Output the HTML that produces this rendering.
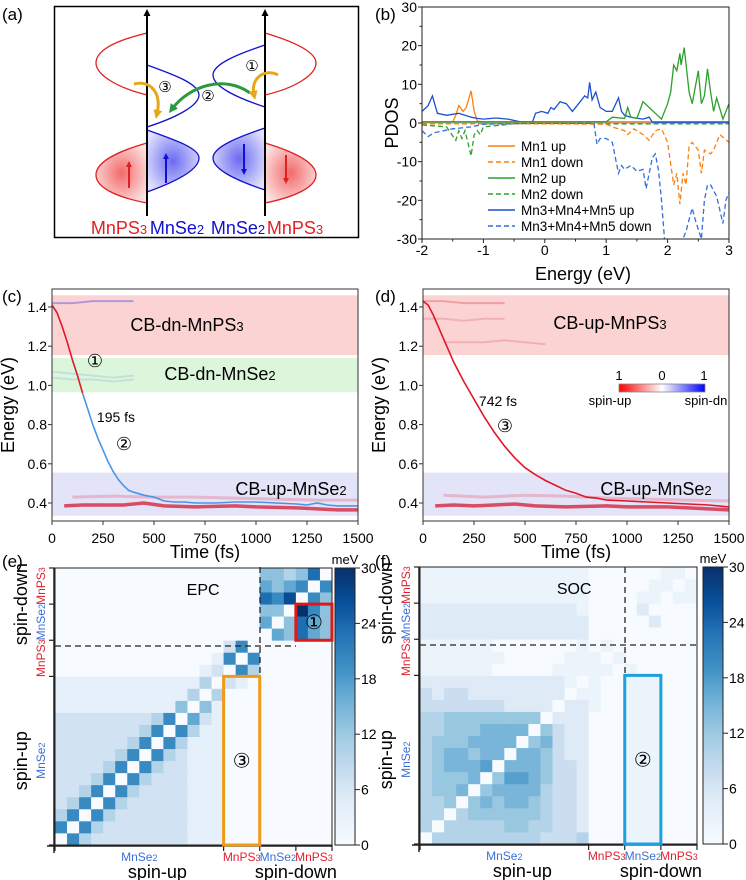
<!DOCTYPE html>
<html><head><meta charset="utf-8"><style>
html,body{margin:0;padding:0;background:#fff}
svg{display:block;font-family:"Liberation Sans","DejaVu Sans",sans-serif}
</style></head><body>
<svg id="fig" width="746" height="880" viewBox="0 0 746 880">
<defs>
<radialGradient id="gRed" cx="0.5" cy="0.5" r="0.6"><stop offset="0" stop-color="#f26a6a"/><stop offset="1" stop-color="#fde3e3"/></radialGradient>
<radialGradient id="gBlue" cx="0.5" cy="0.5" r="0.6"><stop offset="0" stop-color="#6a6af2"/><stop offset="1" stop-color="#e3e3fd"/></radialGradient>
<linearGradient id="spinBar" x1="0" x2="1"><stop offset="0" stop-color="#ff0000"/><stop offset="0.5" stop-color="#ffffff"/><stop offset="1" stop-color="#0000ff"/></linearGradient>
<linearGradient id="bluesBar" x1="0" y1="1" x2="0" y2="0">
<stop offset="0" stop-color="#f7fbff"/><stop offset="0.17" stop-color="#deebf7"/><stop offset="0.27" stop-color="#c6dbef"/><stop offset="0.4" stop-color="#9ecae1"/><stop offset="0.53" stop-color="#6baed6"/><stop offset="0.63" stop-color="#4292c6"/><stop offset="0.77" stop-color="#2171b5"/><stop offset="0.87" stop-color="#08519c"/><stop offset="1" stop-color="#08306b"/></linearGradient>
<marker id="ahY" markerUnits="userSpaceOnUse" markerWidth="9" markerHeight="9" refX="4" refY="4.5" orient="auto"><path d="M0,0 L9,4.5 L0,9 z" fill="#e6a81a"/></marker>
<marker id="ahG" markerUnits="userSpaceOnUse" markerWidth="9" markerHeight="9" refX="4" refY="4.5" orient="auto"><path d="M0,0 L9,4.5 L0,9 z" fill="#2a9a3a"/></marker>
<marker id="ahK" markerUnits="userSpaceOnUse" markerWidth="7" markerHeight="7" refX="5" refY="3.5" orient="auto"><path d="M0,0 L7,3.5 L0,7 z" fill="#000"/></marker>
<marker id="ahR" markerUnits="userSpaceOnUse" markerWidth="6" markerHeight="6" refX="4" refY="3" orient="auto"><path d="M0,0 L6,3 L0,6 z" fill="#e02020"/></marker>
<marker id="ahB" markerUnits="userSpaceOnUse" markerWidth="6" markerHeight="6" refX="4" refY="3" orient="auto"><path d="M0,0 L6,3 L0,6 z" fill="#1010d0"/></marker>
</defs>

<text x="2" y="20" font-size="17">(a)</text>
<text x="375" y="20" font-size="17">(b)</text>
<text x="2" y="302" font-size="17">(c)</text>
<text x="375" y="302" font-size="17">(d)</text>
<text x="2" y="567" font-size="17">(e)</text>
<text x="375" y="567" font-size="17">(f)</text>

<g>
<rect x="54.5" y="6.5" width="304" height="231" fill="#fff" stroke="#000" stroke-width="1.5"/>
<path d="M147,33 C110,42 96,52 96,63 C96,75 118,88 147,95" fill="none" stroke="#e02020" stroke-width="1.3"/>
<path d="M147,65 C175,75 199,84 199,95 C199,106 175,118 147,127" fill="none" stroke="#1010d0" stroke-width="1.3"/>
<path d="M147,130 C175,140 199,148 199,158 C199,170 175,182 147,192 Z" fill="url(#gBlue)" stroke="#1010d0" stroke-width="1.3"/>
<path d="M147,143 C115,152 96,163 96,175 C96,187 115,197 147,203 Z" fill="url(#gRed)" stroke="#e02020" stroke-width="1.3"/>
<path d="M265,33 C295,42 316,52 316,63 C316,75 295,88 265,95" fill="none" stroke="#e02020" stroke-width="1.3"/>
<path d="M265,45 C238,54 213,64 213,75 C213,87 238,98 265,107" fill="none" stroke="#1010d0" stroke-width="1.3"/>
<path d="M265,128 C238,137 213,147 213,158 C213,170 238,181 265,190 Z" fill="url(#gBlue)" stroke="#1010d0" stroke-width="1.3"/>
<path d="M265,143 C295,152 316,163 316,175 C316,187 295,197 265,203 Z" fill="url(#gRed)" stroke="#e02020" stroke-width="1.3"/>
<line x1="147" y1="216" x2="147" y2="11" stroke="#000" stroke-width="2" marker-end="url(#ahK)"/>
<line x1="265" y1="216" x2="265" y2="11" stroke="#000" stroke-width="2" marker-end="url(#ahK)"/>
<line x1="129" y1="188" x2="129" y2="163" stroke="#e02020" stroke-width="2" marker-end="url(#ahR)"/>
<line x1="166" y1="183" x2="166" y2="155" stroke="#1010d0" stroke-width="2" marker-end="url(#ahB)"/>
<line x1="244" y1="144" x2="244" y2="173" stroke="#1010d0" stroke-width="2" marker-end="url(#ahB)"/>
<line x1="286" y1="155" x2="286" y2="182" stroke="#e02020" stroke-width="2" marker-end="url(#ahR)"/>
<path d="M134,84 C150,80 162,92 157,114" fill="none" stroke="#e6a81a" stroke-width="3" marker-end="url(#ahY)"/>
<path d="M250,93 C225,75 190,85 172,109" fill="none" stroke="#2a9a3a" stroke-width="3" marker-end="url(#ahG)"/>
<path d="M278,75 C265,68 250,78 254,95" fill="none" stroke="#e6a81a" stroke-width="3" marker-end="url(#ahY)"/>
<text x="165" y="92" font-size="15" text-anchor="middle" font-family="DejaVu Sans">③</text>
<text x="208" y="101" font-size="15" text-anchor="middle" font-family="DejaVu Sans">②</text>
<text x="252" y="71" font-size="15" text-anchor="middle" font-family="DejaVu Sans">①</text>
<text x="119" y="234" font-size="18" fill="#e02020" text-anchor="middle">MnPS<tspan font-size="13">3</tspan></text>
<text x="177" y="234" font-size="18" fill="#1010d0" text-anchor="middle">MnSe<tspan font-size="13">2</tspan></text>
<text x="238" y="234" font-size="18" fill="#1010d0" text-anchor="middle">MnSe<tspan font-size="13">2</tspan></text>
<text x="295" y="234" font-size="18" fill="#e02020" text-anchor="middle">MnPS<tspan font-size="13">3</tspan></text>
</g>

<g id="pdos"></g>
<g id="pc"></g>
<g id="pd"></g>
<g id="pe"></g>
<g id="pf"></g>
</svg>
<script>
const mn1UpE=[-2,-1.5,-1.45,-1.4,-1.33,-1.28,-1.2,-1.15,-1.1,-1.0,0,1.0,2.0,3];
const mn1UpV=[0.2,0.3,2,4.5,3,4,8.3,3,0.5,0.3,0.2,0.3,0.3,0.3];
const mn1DnE=[-2,0,1.0,1.1,1.3,1.35,1.45,1.6,1.7,1.8,1.9,2.0,2.1,2.15,2.2,2.25,2.3,2.35,2.4,2.5,2.55,2.6,2.7,2.75,2.85,3];
const mn1DnV=[-0.2,-0.2,-0.3,-1,-2,-3,-1.5,-3,-4.5,-2,-1.5,-5,-16,-13,-21,-13,-16,-6,-5,-7,-13,-7,-8,-7,-3,-5];
const mn2UpE=[-2,0,1.0,1.1,1.3,1.35,1.4,1.5,1.6,1.7,1.8,1.9,2.0,2.05,2.1,2.15,2.2,2.22,2.27,2.35,2.4,2.5,2.55,2.6,2.65,2.7,2.75,2.8,2.9,3];
const mn2UpV=[0.3,0.3,0.3,1.5,1.2,4,1.5,1.2,5.5,4,2.5,1,5,8,15,13.5,18,15,19.5,8,5,13.5,5,7,14,8,3,6.5,1,5];
const mn2DnE=[-2,-1.6,-1.45,-1.4,-1.35,-1.3,-1.2,-1.15,-1.1,-1.05,-1,-0.5,3];
const mn2DnV=[-0.5,-1,-4.5,-2,-4,-2,-8.5,-3,-2,-3,-1,-0.2,-0.2];
const mn345UpE=[-2,-1.9,-1.83,-1.75,-1.6,-1.4,-1.2,-1.1,-1,-0.8,-0.6,-0.4,-0.2,-0.15,-0.05,0.05,0.1,0.15,0.25,0.35,0.45,0.55,0.65,0.7,0.73,0.77,0.83,0.9,1.0,1.1,1.2,1.25,1.3,1.4,1.6,1.7,1.75,3];
const mn345UpV=[3,4.5,7,2.5,2,2.5,1.5,1.2,1,1.3,1,0.3,0.3,2.5,3,2.5,4,3.5,5.5,5,3,5,7,6.5,10.5,6,8,4,3,3,6.5,3,2,1.5,1,1.5,0.2,0.2];
const mn345DnE=[-2,-1.9,-1.8,-1.5,-1.2,-1,-0.2,0.8,0.85,0.9,1.0,1.1,1.2,1.25,1.3,1.4,1.5,1.6,1.65,1.75,1.8,1.85,1.9,1.95,2.0,2.1,2.2,2.3,2.4,2.45,2.55,2.6,2.65,2.7,2.8,2.9,2.95,3];
const mn345DnV=[-2,-3.5,-2.5,-1.5,-1,-0.3,-0.1,-0.1,-5.5,-4,-4,-5,-13,-11,-12,-11,-12.5,-12,-17,-9,-8,-12,-20,-30,-32,-34,-32,-28,-22,-25,-30,-20,-16,-16,-19,-26,-20,-18];
const pdosXTicks=[-2,-1,0,1,2,3];
const pdosYTicks=[30,20,10,0,-10,-20,-30];
const legendNames=["Mn1 up","Mn1 down","Mn2 up","Mn2 down","Mn3+Mn4+Mn5 up","Mn3+Mn4+Mn5 down"];

const cT=[0,25,50,75,100,125,150,175,200,225,250,275,300,325,350,375,400,450,500,550,600,650,700,800,900,1000,1100,1200,1250,1300,1350,1400,1500];
const cE=[1.41,1.37,1.3,1.22,1.13,1.05,0.96,0.88,0.80,0.73,0.67,0.61,0.56,0.52,0.49,0.465,0.455,0.44,0.43,0.41,0.405,0.405,0.40,0.40,0.405,0.405,0.40,0.395,0.39,0.40,0.39,0.385,0.385];
const cSplitTime=150;
const lowT=[60,150,250,350,450,550,700,900,1000,1200,1400,1500];
const lowEc=[0.385,0.39,0.39,0.39,0.4,0.385,0.38,0.385,0.38,0.375,0.365,0.365];
const lowEd=[0.385,0.39,0.385,0.39,0.395,0.385,0.38,0.385,0.38,0.38,0.37,0.365];
const faintT=[100,300,500,700,900,1100,1300,1500];
const faintEc=[0.43,0.435,0.43,0.43,0.425,0.42,0.415,0.415];
const faintEd=[0.44,0.43,0.44,0.435,0.425,0.42,0.415,0.41];
const faintTopT=[0,100,200,300,400];
const faintTopC=[1.42,1.42,1.43,1.43,1.43];
const faintMidC=[1.07,1.06,1.05,1.04,1.05];
const faintLowC=[1.04,1.03,1.03,1.02,1.03];
const faintTopD=[1.43,1.43,1.42,1.42,1.42];
const faintMidD=[1.34,1.34,1.33,1.34,1.34];
const faintT2=[100,200,300,400,500,600];
const faintLowD=[1.22,1.22,1.22,1.23,1.22,1.21];
const dT=[0,25,50,100,150,200,250,300,350,400,450,500,550,600,650,700,750,800,850,900,1000,1100,1200,1300,1400,1500];
const dE=[1.43,1.41,1.36,1.24,1.12,1.02,0.93,0.84,0.76,0.69,0.63,0.58,0.545,0.515,0.49,0.465,0.45,0.43,0.425,0.415,0.41,0.405,0.40,0.395,0.39,0.38];
const timeTicks=[0,250,500,750,1000,1250,1500];
const energyTicks=[0.4,0.6,0.8,1.0,1.2,1.4];

const epcRows=[
"06322222222111000000000","60632222222111000000000","36063222222111000000000","23606322222111000000000",
"22360632222111000000000","22236063222111000000000","22223606322111000000000","22222360632111000000000",
"22222236063111000000000","22222223606311000000000","22222222360521000000000","11111111114041000000000",
"11111111111303000000000","11111111111130210000000","00000000000012063000000","00000000000001606000000",
"00000000000000260000000","00000000000000000054754","00000000000000000504754","00000000000000000440964",
"00000000000000000768064","00000000000000000545606","00000000000000000443470"];
const socRows=[
"04444444443334000111000","40444445544332000111000","44045555554332000111000","44505656654332000111000",
"45560566664332000111000","45556057765332000111000","45666706665332000111000","45665660665322000111000",
"45556666056322000111000","44555666605322000111000","44555555550222000111000","33333332222022100111000",
"32332222222201100111000","22222222222210100111000","11111100000111110100000","11111110000011101000000",
"11111100000001010000000","22222222222222000000000","22222222222222000002000","22222222222221000020000",
"11111111111111000011011","11111111111111000001101","11111111111111000000110"];
const cbarTicks=[0,6,12,18,24,30];
const epcLevelMeV=3.33;
const socLevelMeV=2.5;

const NS="http://www.w3.org/2000/svg";
function el(tag,attrs,parent,txt){const e=document.createElementNS(NS,tag);for(const k in attrs)e.setAttribute(k,attrs[k]);if(txt!==undefined)e.textContent=txt;parent.appendChild(e);return e;}
function pathD(xs,ys,fx,fy){return xs.map((x,i)=>(i?"L":"M")+fx(x).toFixed(1)+","+fy(ys[i]).toFixed(1)).join(" ");}

(function(){
const g=document.getElementById('pdos');
const X0=422,X1=729,Y0=7,Y1=239;
const xb=e=>X0+(e+2)/5*(X1-X0);
const yb=v=>Y0+(30-v)/60*(Y1-Y0);
const clip=el('clipPath',{id:'pdosClip'},g);el('rect',{x:X0,y:Y0,width:X1-X0,height:Y1-Y0},clip);
const lines=el('g',{'clip-path':'url(#pdosClip)'},g);

const zero=el('line',{x1:X0,x2:X1,y1:yb(0),y2:yb(0),stroke:'#888','stroke-width':0.8},lines);

const series=[[mn2DnE,mn2DnV,'#2ca02c',true],[mn1DnE,mn1DnV,'#ff7f0e',true],[mn345DnE,mn345DnV,'#2f6fe0',true],[mn1UpE,mn1UpV,'#ff7f0e',false],[mn345UpE,mn345UpV,'#1f4fd0',false],[mn2UpE,mn2UpV,'#2ca02c',false]];
const snames=['mn2-down-line','mn1-down-line','mn345-down-line','mn1-up-line','mn345-up-line','mn2-up-line'];
series.forEach((s,i)=>{const p=el('path',{d:pathD(s[0],s[1],xb,yb),fill:'none',stroke:s[2],'stroke-width':1.3,'stroke-dasharray':s[3]?'5,3':'none'},lines);
});
const fr=el('rect',{x:X0,y:Y0,width:X1-X0,height:Y1-Y0,fill:'none',stroke:'#222','stroke-width':1},g);

pdosXTicks.forEach(t=>{el('line',{x1:xb(t),x2:xb(t),y1:Y1,y2:Y1+4,stroke:'#222'},g);
 const tx=el('text',{x:xb(t),y:Y1+16,'font-size':14,'text-anchor':'middle'},g,String(t));
 
 if(t<3)el('line',{x1:xb(t+0.5),x2:xb(t+0.5),y1:Y1,y2:Y1+2.5,stroke:'#222'},g);});
pdosYTicks.forEach(t=>{el('line',{x1:X0-4,x2:X0,y1:yb(t),y2:yb(t),stroke:'#222'},g);
 const tx=el('text',{x:X0-5,y:yb(t)+5,'font-size':14,'text-anchor':'end'},g,String(t));
 
 if(t>-30)el('line',{x1:X0-2.5,x2:X0,y1:yb(t-5),y2:yb(t-5),stroke:'#222'},g);});
const xt=el('text',{x:583,y:280,'font-size':18,'text-anchor':'middle'},g,'Energy (eV)');

const yt=el('text',{x:0,y:0,'font-size':18,'text-anchor':'middle',transform:'translate(398,123) rotate(-90)'},g,'PDOS');

const lcol=['#ff7f0e','#ff7f0e','#2ca02c','#2ca02c','#1f4fd0','#2f6fe0'];
legendNames.forEach((n,i)=>{const y=146+i*16;
 const lg=el('g',{},g);
 el('line',{x1:488,x2:515,y1:y,y2:y,stroke:lcol[i],'stroke-width':1.4,'stroke-dasharray':i%2?'5,3':'none'},lg);
 el('text',{x:521,y:y+5,'font-size':13.5},lg,n);});
})();

function dyn(gid,X0,curveSpec,bands,texts,extra){
const g=document.getElementById(gid);
const X1=X0+306,Y0=289,Y1=521;
const xt=t=>X0+t/1500*(X1-X0);
const ye=E=>503-(E-0.4)*196;
const cid=gid+'Clip';
const clip=el('clipPath',{id:cid},g);el('rect',{x:X0,y:Y0,width:X1-X0,height:Y1-Y0},clip);
const inner=el('g',{'clip-path':'url(#'+cid+')'},g);
bands.forEach(b=>{const r=el('rect',{x:X0,width:X1-X0,y:ye(b[1]),height:ye(b[0])-ye(b[1]),fill:b[2]},inner);
 });
extra(inner,xt,ye);
curveSpec(inner,xt,ye);
const fr=el('rect',{x:X0,y:Y0,width:X1-X0,height:Y1-Y0,fill:'none',stroke:'#333','stroke-width':1},g);

timeTicks.forEach(t=>{el('line',{x1:xt(t),x2:xt(t),y1:Y1,y2:Y1+4,stroke:'#333'},g);
 const tx=el('text',{x:xt(t),y:Y1+22,'font-size':14,'text-anchor':'middle'},g,String(t));
 });
energyTicks.forEach(E=>{el('line',{x1:X0-4,x2:X0,y1:ye(E),y2:ye(E),stroke:'#333'},g);
 const tx=el('text',{x:X0-5,y:ye(E)+5,'font-size':14,'text-anchor':'end'},g,E.toFixed(1));
 });
const tt=el('text',{x:(X0+X1)/2,y:558,'font-size':18,'text-anchor':'middle'},g,'Time (fs)');

const et=el('text',{x:0,y:0,'font-size':18,'text-anchor':'middle',transform:'translate('+(X0-38)+',405) rotate(-90)'},g,'Energy (eV)');

texts.forEach(t=>{const tx=el('text',{x:t[0],y:t[1],'font-size':t[3],'text-anchor':'middle','font-family':t[4]||'Liberation Sans'},g);tx.innerHTML=t[2];
 });
return g;}

function faint(inner,xt,ye,ts,es,col,w,op,name){const p=el('path',{d:pathD(ts,es,xt,ye),fill:'none',stroke:col,'stroke-width':w,opacity:op},inner);
}

dyn('pc',52,function(inner,xt,ye){
 const i=cT.indexOf(cSplitTime);
 const red=el('path',{d:pathD(cT.slice(0,i+1),cE.slice(0,i+1),xt,ye),fill:'none',stroke:'#e01828','stroke-width':1.6},inner);
 
 const bl=el('path',{d:pathD(cT.slice(i),cE.slice(i),xt,ye),fill:'none',stroke:'#4a94e6','stroke-width':1.6},inner);
 
},[[1.155,1.46,'#fcd3d3','cb-dn-mnps3-band'],[0.965,1.14,'#dcf6dc','cb-dn-mnse2-band'],[0.335,0.555,'#e4e4f8','cb-up-mnse2-band']],
[[187,331,'CB-dn-MnPS<tspan font-size="13">3</tspan>',18,null,'cb-dn-mnps3-label'],[95,367,'①',18,'DejaVu Sans','step-1-marker'],[220,380,'CB-dn-MnSe<tspan font-size="13">2</tspan>',18,null,'cb-dn-mnse2-label'],[116,422,'195 fs',14,null,'lifetime-195fs'],[124,450,'②',18,'DejaVu Sans','step-2-marker'],[291,495,'CB-up-MnSe<tspan font-size="13">2</tspan>',18,null,'cb-up-mnse2-label']],
function(inner,xt,ye){
 faint(inner,xt,ye,faintT,faintEc,'#e58aa0',3,0.5,'faint-level-line');
 faint(inner,xt,ye,lowT,lowEc,'#d8304a',3.5,0.85,'lowest-level-line');
 faint(inner,xt,ye,faintTopT,faintTopC,'#5050e0',2,0.45,'faint-top-line');
 faint(inner,xt,ye,faintTopT,faintMidC,'#9ab8d8',2,0.35,'faint-mid-line');
 faint(inner,xt,ye,faintTopT,faintLowC,'#9ab8d8',2,0.35,'faint-low-line');
});

dyn('pd',423,function(inner,xt,ye){
 const p=el('path',{d:pathD(dT,dE,xt,ye),fill:'none',stroke:'#e01828','stroke-width':1.6},inner);
 
},[[1.155,1.46,'#fcd3d3','cb-up-mnps3-band'],[0.335,0.555,'#e4e4f8','cb-up-mnse2-band']],
[[610,329,'CB-up-MnPS<tspan font-size="13">3</tspan>',18,null,'cb-up-mnps3-label'],[498,406,'742 fs',14,null,'lifetime-742fs'],[505,432,'③',18,'DejaVu Sans','step-3-marker'],[656,495,'CB-up-MnSe<tspan font-size="13">2</tspan>',18,null,'cb-up-mnse2-label'],
 [619,380,'1',13,null,'spin-scale-left'],[662,380,'0',13,null,'spin-scale-mid'],[704,380,'1',13,null,'spin-scale-right'],[610,405,'spin-up',13,null,'spin-up-label'],[706,405,'spin-dn',13,null,'spin-dn-label']],
function(inner,xt,ye){
 faint(inner,xt,ye,faintT,faintEd,'#e58aa0',3,0.5,'faint-level-line');
 faint(inner,xt,ye,lowT,lowEd,'#d8304a',3.5,0.85,'lowest-level-line');
 faint(inner,xt,ye,faintTopT,faintTopD,'#e05060',2,0.4,'faint-top-line');
 faint(inner,xt,ye,faintTopT,faintMidD,'#e07080',2,0.35,'faint-mid-line');
 faint(inner,xt,ye,faintT2,faintLowD,'#e07080',2,0.35,'faint-low-line');
});
(function(){const g=document.getElementById('pd');
const r=el('rect',{x:619,y:384,width:86,height:8,fill:'url(#spinBar)',stroke:'#888','stroke-width':0.8},g);
})();

const stops=[[0,[247,251,255]],[5,[222,235,247]],[8,[198,219,239]],[12,[158,202,225]],[16,[107,174,214]],[19,[66,146,198]],[23,[33,113,181]],[26,[8,81,156]],[30,[8,48,107]]];
function blues(v){v=Math.max(0,Math.min(30,v));for(let i=1;i<stops.length;i++){if(v<=stops[i][0]){const a=stops[i-1],b=stops[i],f=(v-a[0])/(b[0]-a[0]);return 'rgb('+a[1].map((c,k)=>Math.round(c+(b[1][k]-c)*f)).join(',')+')';}}return 'rgb(8,48,107)';}
function heat(gid,X0,YB,rows,levelMeV,title,cbx,boxSpec,dash){
const g=document.getElementById(gid);
const n=rows.length,W=277,cs=W/n,YT=YB-W;
const cells=el('g',{},g);
rows.forEach((row,r)=>{for(let c=0;c<n;c++){const v=parseInt(row[c])*levelMeV;
 const rc=el('rect',{x:(X0+c*cs).toFixed(2),y:(YB-(r+1)*cs).toFixed(2),width:(cs+0.4).toFixed(2),height:(cs+0.4).toFixed(2),fill:blues(v)},cells);
 }});
el('rect',{x:X0,y:YT,width:W,height:W,fill:'none',stroke:'#222','stroke-width':1},g);
const bt=[0,14,17,20,23];
bt.forEach(k=>{el('line',{x1:X0+k*cs,x2:X0+k*cs,y1:YB,y2:YB+6,stroke:'#222','stroke-width':1.2},g);
 el('line',{x1:X0-6,x2:X0,y1:YB-k*cs,y2:YB-k*cs,stroke:'#222','stroke-width':1.2},g);});
el('line',{x1:X0-8,x2:X0+W,y1:YB+1,y2:YB+1,stroke:'#222','stroke-width':1.5},g);
el('line',{x1:X0-1,x2:X0-1,y1:YT,y2:YB+8,stroke:'#222','stroke-width':1.5},g);
dash.forEach(d=>{const l=el('line',{x1:d[0],y1:d[1],x2:d[2],y2:d[3],stroke:'#222','stroke-width':1.3,'stroke-dasharray':'6,4'},g);
 });
boxSpec.forEach(b=>{const rr=el('rect',{x:X0+b[0]*cs,y:YB-b[3]*cs,width:(b[1]-b[0])*cs,height:(b[3]-b[2])*cs,fill:'none',stroke:b[4],'stroke-width':3},g);
 
 const tx=el('text',{x:X0+(b[0]+b[1])/2*cs,y:YB-(b[2]+b[3])/2*cs+7,'font-size':20,'text-anchor':'middle','font-family':'DejaVu Sans'},g,b[6]);
 });
const tl=el('text',{x:X0+title[1]*cs,y:YT+27,'font-size':16,'text-anchor':'middle'},g,title[0]);

const bl=[[7,'MnSe<tspan font-size="9">2</tspan>','#3a6fd8'],[15.5,'MnPS<tspan font-size="9">3</tspan>','#e02030'],[18.5,'MnSe<tspan font-size="9">2</tspan>','#3a6fd8'],[21.5,'MnPS<tspan font-size="9">3</tspan>','#e02030']];
bl.forEach(b=>{const t=el('text',{x:X0+b[0]*cs,y:YB+16,'font-size':12,'text-anchor':'middle',fill:b[2]},g);t.innerHTML=b[1];
 
 const t2=el('text',{x:0,y:0,'font-size':12,'text-anchor':'middle',fill:b[2],transform:'translate('+(X0-10)+','+(YB-b[0]*cs)+') rotate(-90)'},g);t2.innerHTML=b[1];
 });
const su=el('text',{x:X0+8.5*cs,y:YB+33,'font-size':18,'text-anchor':'middle'},g,'spin-up');
const sd=el('text',{x:X0+20*cs,y:YB+33,'font-size':18,'text-anchor':'middle'},g,'spin-down');
const yu=el('text',{x:0,y:0,'font-size':18,'text-anchor':'middle',transform:'translate('+(X0-28)+','+(YB-7*cs)+') rotate(-90)'},g,'spin-up');
const yd=el('text',{x:0,y:0,'font-size':18,'text-anchor':'middle',transform:'translate('+(X0-28)+','+(YB-20*cs)+') rotate(-90)'},g,'spin-down');
const cb=el('rect',{x:cbx,y:YT,width:20,height:W,fill:'url(#bluesBar)',stroke:'#222','stroke-width':1},g);

cbarTicks.forEach(t=>{const y=YB-t/30*W;el('line',{x1:cbx+20,x2:cbx+25,y1:y,y2:y,stroke:'#222'},g);
 const tx=el('text',{x:cbx+26,y:y+5,'font-size':14},g,String(t));});
const mv=el('text',{x:cbx+10,y:YT-4,'font-size':13,'text-anchor':'middle'},g,'meV');
}
heat('pe',55,845,epcRows,epcLevelMeV,['EPC',12.3],335,[[20,23,17,20,'#e01818','box-step-1','①'],[14,17,0,14,'#f09a18','box-step-3','③']],[[55,646,296,646],[260,567,260,845]]);
heat('pf',420,844,socRows,socLevelMeV,['SOC',12.8],703,[[17,20,0,14,'#1ea0e0','box-step-2','②']],[[420,645,698,645],[625,567,625,680]]);
</script>
</body></html>
